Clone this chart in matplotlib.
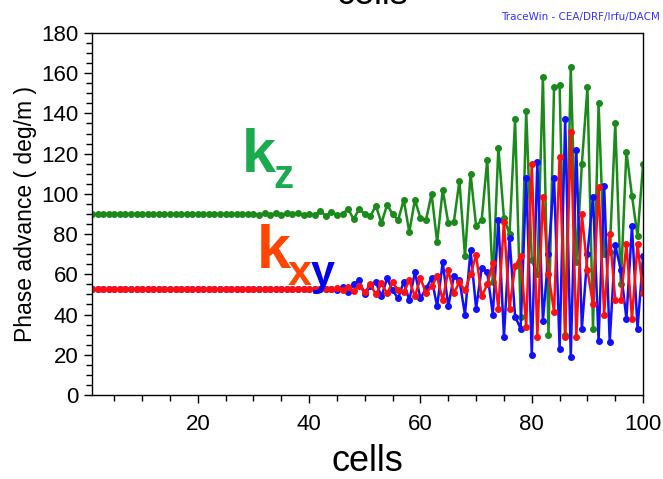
import numpy as np
import matplotlib
matplotlib.use("Agg")
import matplotlib.pyplot as plt
from matplotlib.ticker import MultipleLocator

plt.rcParams['font.family'] = ['Liberation Sans', 'DejaVu Sans']

cells = np.arange(1, 101)

# kz (green)
kz = [90.0] * 30 + [
    89.6, 90.4, 89.7, 90.3, 89.5, 90.5, 89.8, 90.6, 89.4, 90.2, 89.6,   # 31-41
    91.6, 89.0, 91.0, 89.5, 90.0, 92.5, 87.5, 92.5, 90.0,               # 42-50
    89.0, 94.0, 85.5, 94.5, 90.0, 87.0, 97.0, 81.0, 97.0, 88.0,         # 51-60
    87.0, 100.0, 76.0, 102.0, 85.5, 86.0, 106.5, 69.0, 110.0, 84.0,     # 61-70
    87.0, 117.0, 56.0, 123.0, 88.0, 80.0, 137.0, 39.0, 141.0, 67.0,     # 71-80
    60.0, 158.0, 30.0, 153.0, 154.0, 30.0, 163.0, 66.0, 115.0, 153.0,   # 81-90
    33.0, 145.0, 70.0, 71.0, 135.0, 55.0, 121.0, 99.0, 79.0, 115.0,     # 91-100
]

# kx (red)
kx = [52.5] * 44 + [
    53.0, 52.0, 53.5, 51.5, 54.0, 51.0,                                 # 45-50
    55.0, 50.0, 55.5, 50.5, 56.0, 52.0, 51.0, 57.0, 49.0, 58.0,         # 51-60
    50.7, 54.0, 59.0, 47.0, 62.0, 50.7, 56.0, 52.0, 60.0, 69.6,         # 61-70
    49.0, 55.0, 65.6, 43.0, 86.0, 43.0, 64.0, 69.0, 34.0, 115.0,        # 71-80
    29.0, 98.5, 60.0, 41.4, 118.5, 29.0, 131.0, 29.0, 90.0, 62.0,       # 81-90
    45.0, 103.6, 40.0, 80.0, 47.0, 47.0, 75.0, 38.0, 75.0, 50.7,        # 91-100
]

# ky (blue)
ky = [52.5] * 44 + [
    52.0, 53.5, 51.0, 55.0, 57.0, 50.0,                                 # 45-50
    54.0, 56.0, 49.0, 58.0, 52.0, 48.0, 56.4, 47.0, 61.0, 48.0,         # 51-60
    53.0, 58.0, 44.0, 66.0, 44.0, 59.0, 57.0, 40.0, 72.0, 43.0,         # 61-70
    63.0, 61.0, 40.0, 87.0, 29.0, 78.0, 39.0, 33.0, 108.0, 20.0,        # 71-80
    116.0, 37.0, 70.0, 108.0, 23.0, 137.0, 19.0, 122.0, 33.0, 70.0,     # 81-90
    98.6, 27.0, 104.0, 26.5, 74.6, 62.0, 38.0, 84.0, 33.0, 69.0,        # 91-100
]

fig = plt.figure(figsize=(6.63, 4.79), dpi=100)
ax = fig.add_axes([0.1388, 0.1754, 0.8312, 0.7557])

ax.plot(cells, kz, color="#1a8a1a", lw=1.8, marker="o", ms=4)
ax.plot(cells, ky, color="#1010ff", lw=1.8, marker="o", ms=4)
ax.plot(cells, kx, color="#ff1010", lw=1.8, marker="o", ms=4)

ax.set_xlim(1, 100)
ax.set_ylim(0, 180)
ax.xaxis.set_major_locator(MultipleLocator(20))
ax.xaxis.set_minor_locator(MultipleLocator(5))
ax.yaxis.set_major_locator(MultipleLocator(20))
ax.yaxis.set_minor_locator(MultipleLocator(5))
ax.tick_params(which="major", direction="out", length=6, width=1, labelsize=16, pad=4)
ax.tick_params(which="minor", direction="out", length=4, width=1)
ax.tick_params(axis="x", which="major", pad=8)
for s in ax.spines.values():
    s.set_linewidth(1)

ax.set_ylabel("Phase advance ( deg/m )", fontsize=16.5, labelpad=3)
ax.set_xlabel("cells", fontsize=26, labelpad=6)

# cut-off title at the top and program tag
fig.text(0.561, 0.9916, "cells", fontsize=26, ha="center", va="baseline")
fig.text(0.995, 0.958, "TraceWin - CEA/DRF/Irfu/DACM", fontsize=7.5,
         color="#3333ff", ha="right", va="baseline", family="DejaVu Sans")

# curve labels
fig.text(242 / 663, 1 - 172 / 479, "k", fontsize=44, fontweight="bold",
         color="#1aaa50", va="baseline")
fig.text(273 / 663, 1 - 188 / 479, "z", fontsize=29, fontweight="bold",
         color="#1aaa50", va="baseline")
fig.text(257 / 663, 1 - 268 / 479, "k", fontsize=44, fontweight="bold",
         color="#ff4500", va="baseline")
fig.text(288 / 663, 1 - 285 / 479, "x", fontsize=31, fontweight="bold",
         color="#ff4500", va="baseline")
fig.text(311 / 663, 1 - 285 / 479, "y", fontsize=31, fontweight="bold",
         color="#0000ee", va="baseline")

fig.savefig("out.png", dpi=100)
